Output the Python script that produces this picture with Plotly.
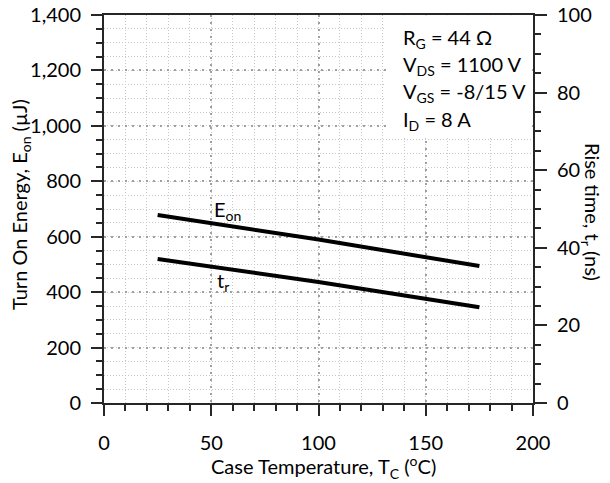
import plotly.graph_objects as go

# Data
temp_c = [25, 100, 175]
eon_uj = [678, 590, 494]
tr_ns = [37.1, 31.2, 24.7]

x_ticks = [0, 50, 100, 150, 200]
y_left_ticks = [0, 200, 400, 600, 800, 1000, 1200, 1400]
y_left_labels = ["0", "200", "400", "600", "800", "1,000", "1,200", "1,400"]
y_right_ticks = [0, 20, 40, 60, 80, 100]

conditions = ["R<sub>G</sub> = 44 Ω", "V<sub>DS</sub> = 1100 V",
              "V<sub>GS</sub> = -8/15 V", "I<sub>D</sub> = 8 A"]

FONT = "Lato"
FS = 20
AX = "#262626"
MAJ = "#A0A0A0"
MIN = "#C8C8C8"

fig = go.Figure()
fig.add_trace(go.Scatter(x=temp_c, y=eon_uj, mode="lines",
                         line=dict(color="black", width=4), yaxis="y", showlegend=False))
fig.add_trace(go.Scatter(x=temp_c, y=tr_ns, mode="lines",
                         line=dict(color="black", width=4), yaxis="y2", showlegend=False))

W, H = 610, 483
L, R, T, B = 104, 77, 15, 80

fig.update_layout(
    width=W, height=H,
    margin=dict(l=L, r=R, t=T, b=B, autoexpand=False),
    paper_bgcolor="white", plot_bgcolor="white",
    font=dict(family=FONT, size=FS, color="black"),
    xaxis=dict(range=[0, 200], tickvals=x_ticks, ticks="outside", ticklen=11, tickwidth=1.5,
               tickcolor=AX, showline=True, linecolor=AX, linewidth=2, mirror=True,
               showgrid=True, gridcolor=MAJ, gridwidth=2, griddash="2px,5px",
               zeroline=False, ticklabelstandoff=10, automargin=False,
               minor=dict(dtick=10, tick0=0, ticks="outside", ticklen=6, tickwidth=1.5,
                          tickcolor=AX, showgrid=True, gridcolor=MIN, gridwidth=1,
                          griddash="1px,2px")),
    yaxis=dict(range=[0, 1400], tickvals=y_left_ticks, ticktext=y_left_labels,
               ticks="outside", ticklen=11, tickwidth=1.5, tickcolor=AX,
               showline=True, linecolor=AX, linewidth=2,
               showgrid=True, gridcolor=MAJ, gridwidth=2, griddash="2px,5px",
               zeroline=False, ticklabelstandoff=6, automargin=False,
               minor=dict(dtick=50, tick0=0, ticks="outside", ticklen=6, tickwidth=1.5,
                          tickcolor=AX, showgrid=True, gridcolor=MIN, gridwidth=1,
                          griddash="1px,2px")),
    yaxis2=dict(range=[0, 100], tickvals=y_right_ticks, overlaying="y", side="right",
                ticks="outside", ticklen=12, tickwidth=1.5, tickcolor=AX,
                showline=True, linecolor=AX, linewidth=2, showgrid=False,
                zeroline=False, ticklabelstandoff=6, automargin=False,
                minor=dict(dtick=5, tick0=0, ticks="outside", ticklen=6, tickwidth=1.5,
                           tickcolor=AX, showgrid=False)),
)

plot_w = W - L - R
plot_h = H - T - B

def px_x(p):
    return (p - L) / plot_w

def px_y(p):
    return (H - B - p) / plot_h

# white box behind the conditions text (axis-referenced so it sits above the grid)
fig.add_shape(type="rect", xref="x", yref="y",
              x0=px_x(386) * 200, x1=199.5, y0=px_y(136) * 1400, y1=1399,
              fillcolor="white", line=dict(width=0), layer="between")

ann = []
for i, txt in enumerate(conditions):
    ann.append(dict(text=txt, xref="paper", yref="paper", x=px_x(401), y=px_y(38 + 27.5 * i),
                    xanchor="left", yanchor="middle", showarrow=False,
                    font=dict(family=FONT, size=FS)))

# curve labels
ann.append(dict(text="E<sub>on</sub>", x=57.5, y=695, xref="x", yref="y", showarrow=False,
                xanchor="center", yanchor="middle", font=dict(family=FONT, size=FS)))
ann.append(dict(text="t<sub>r</sub>", x=55.5, y=440, xref="x", yref="y", showarrow=False,
                xanchor="center", yanchor="middle", font=dict(family=FONT, size=FS)))

# axis titles
ann.append(dict(text="Case Temperature, T<sub>C</sub> (<sup>o</sup>C)", xref="paper", yref="paper",
                x=px_x(323), y=px_y(467), xanchor="center", yanchor="middle",
                showarrow=False, font=dict(family=FONT, size=FS)))
ann.append(dict(text="Turn On Energy, E<sub>on</sub> (µJ)", xref="paper", yref="paper",
                x=px_x(20), y=px_y(205), xanchor="center", yanchor="middle", textangle=-90,
                showarrow=False, font=dict(family=FONT, size=FS)))
ann.append(dict(text="Rise time, t<sub>r</sub> (ns)", xref="paper", yref="paper",
                x=px_x(592), y=px_y(212), xanchor="center", yanchor="middle", textangle=90,
                showarrow=False, font=dict(family=FONT, size=FS)))

fig.update_layout(annotations=ann)

fig.write_html("out.html")
